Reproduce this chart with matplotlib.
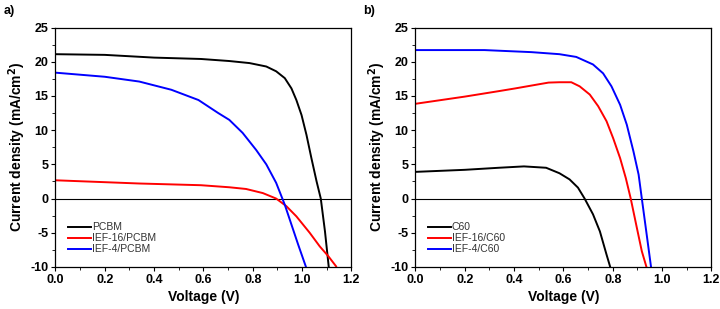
import matplotlib.pyplot as plt
from matplotlib.ticker import MultipleLocator

plt.rcParams['font.family'] = ['Liberation Sans', 'DejaVu Sans']
plt.rcParams['axes.unicode_minus'] = False

# panel a) -- PCBM based cells
v_pcbm = [0.0, 0.2, 0.4, 0.59, 0.705, 0.787, 0.855, 0.895, 0.93, 0.957, 0.977, 0.998,
          1.018, 1.038, 1.059, 1.076, 1.093, 1.108]
j_pcbm = [21.1, 21.0, 20.6, 20.4, 20.1, 19.8, 19.3, 18.6, 17.6, 16.1, 14.4, 12.2,
          9.3, 5.9, 2.5, 0.0, -4.8, -9.9]

v_ief16_pcbm = [0.0, 0.34, 0.59, 0.705, 0.773, 0.841, 0.895, 0.936, 0.977, 1.031, 1.072, 1.106, 1.138]
j_ief16_pcbm = [2.67, 2.2, 1.95, 1.65, 1.4, 0.8, 0.0, -1.1, -2.6, -5.0, -7.0, -8.4, -9.9]

v_ief4_pcbm = [0.0, 0.2, 0.34, 0.47, 0.58, 0.66, 0.705, 0.759, 0.814, 0.855, 0.895, 0.93,
               0.957, 0.984, 1.015]
j_ief4_pcbm = [18.4, 17.8, 17.1, 15.9, 14.4, 12.5, 11.5, 9.6, 7.1, 5.0, 2.3, -0.9,
               -3.8, -6.7, -9.9]

# panel b) -- C60 based cells
v_c60 = [0.0, 0.2, 0.338, 0.44, 0.53, 0.584, 0.625, 0.659, 0.686, 0.72, 0.748, 0.775, 0.789]
j_c60 = [3.9, 4.2, 4.5, 4.7, 4.5, 3.7, 2.8, 1.6, 0.0, -2.3, -4.8, -8.2, -9.9]

v_ief16_c60 = [0.0, 0.2, 0.338, 0.405, 0.5, 0.54, 0.584, 0.632, 0.666, 0.707, 0.741, 0.775,
               0.802, 0.83, 0.853, 0.873, 0.898, 0.918, 0.936]
j_ief16_c60 = [13.85, 14.9, 15.7, 16.1, 16.7, 16.95, 17.0, 17.0, 16.4, 15.2, 13.5, 11.3,
               8.8, 5.9, 3.0, 0.0, -4.3, -7.7, -9.9]

v_ief4_c60 = [0.0, 0.28, 0.47, 0.584, 0.652, 0.72, 0.761, 0.795, 0.83, 0.857, 0.884, 0.905,
              0.918, 0.936, 0.955]
j_ief4_c60 = [21.7, 21.7, 21.4, 21.1, 20.7, 19.6, 18.3, 16.4, 13.7, 10.8, 6.9, 3.5,
              0.0, -4.8, -9.9]

panels = [
    ("a)", [("PCBM", v_pcbm, j_pcbm, "black"),
            ("IEF-16/PCBM", v_ief16_pcbm, j_ief16_pcbm, "red"),
            ("IEF-4/PCBM", v_ief4_pcbm, j_ief4_pcbm, "blue")]),
    ("b)", [("C60", v_c60, j_c60, "black"),
            ("IEF-16/C60", v_ief16_c60, j_ief16_c60, "red"),
            ("IEF-4/C60", v_ief4_c60, j_ief4_c60, "blue")]),
]

fig = plt.figure(figsize=(7.2, 3.09), dpi=100)
lefts = [0.077, 0.577]

for (tag, curves), left in zip(panels, lefts):
    ax = fig.add_axes([left, 0.136, 0.411, 0.775])
    ax.axhline(0, color="black", lw=0.8)
    for name, v, j, c in curves:
        ax.plot(v, j, color=c, lw=1.4, label=name)
    ax.set_xlim(0, 1.2)
    ax.set_ylim(-10, 25)
    ax.xaxis.set_major_locator(MultipleLocator(0.2))
    ax.xaxis.set_minor_locator(MultipleLocator(0.1))
    ax.yaxis.set_major_locator(MultipleLocator(5))
    ax.yaxis.set_minor_locator(MultipleLocator(2.5))
    ax.xaxis.set_major_formatter("{x:.1f}")
    ax.tick_params(which="both", direction="out", labelsize=9, pad=2)
    ax.tick_params(which="major", length=3)
    ax.tick_params(which="minor", length=2)
    for lab in ax.get_xticklabels() + ax.get_yticklabels():
        lab.set_fontweight("bold")
    for s in ax.spines.values():
        s.set_linewidth(0.9)
    ax.set_xlabel("Voltage (V)", fontsize=10, fontweight="bold", labelpad=3)
    ax.set_ylabel("Current density (mA/cm$^\\mathbf{2}$)", fontsize=10, fontweight="bold", labelpad=2)
    leg = ax.legend(loc="lower left", frameon=False, fontsize=7.5, handlelength=2.2,
                    handletextpad=0.1, labelspacing=0.1, borderaxespad=0.8)
    for t in leg.get_texts():
        t.set_color("#333333")
    fig.text(left - 0.072, 0.955, tag, fontsize=9, fontweight="bold")

fig.savefig("out.png", dpi=100)
